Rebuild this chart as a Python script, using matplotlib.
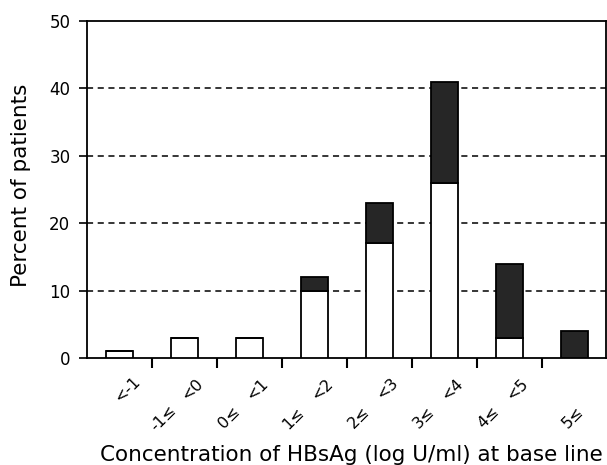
import matplotlib
matplotlib.use("Agg")
import matplotlib.pyplot as plt
import numpy as np

plt.rcParams['font.family'] = ['DejaVu Sans']

# data
upper_labels = ["<-1", "<0", "<1", "<2", "<3", "<4", "<5", ""]
lower_labels = ["", "-1\u2264", "0\u2264", "1\u2264", "2\u2264", "3\u2264", "4\u2264", "5\u2264"]
white_part = [1, 3, 3, 10, 17, 26, 3, 0]
dark_part = [0, 0, 0, 2, 6, 15, 11, 4]
yticks = [0, 10, 20, 30, 40, 50]

fig = plt.figure(figsize=(6.07, 4.65), dpi=100)
ax = fig.add_axes([0.1433, 0.2301, 0.8547, 0.7247])

x = np.arange(len(white_part))
w = 0.42
ax.bar(x, white_part, width=w, color='white', edgecolor='black', linewidth=1.3, zorder=3)
ax.bar(x, dark_part, width=w, bottom=white_part, color='#262626', edgecolor='black',
       linewidth=1.3, zorder=3)

ax.set_xlim(-0.5, 7.48)
ax.set_ylim(0, 50)
ax.set_yticks(yticks)
ax.set_yticklabels([str(v) for v in yticks], fontsize=12)
for v in yticks[1:-1]:
    ax.axhline(v, color='black', linestyle=(0, (4, 3)), linewidth=1.1, zorder=1)

ax.set_xticks(x[:-1] + 0.5)
ax.set_xticklabels([])
ax.tick_params(axis='x', direction='out', length=7, width=1.5, color='black')
ax.tick_params(axis='y', direction='out', length=6, width=1.2, pad=6)

for s in ax.spines.values():
    s.set_linewidth(1.3)

for i in range(len(x)):
    if upper_labels[i]:
        ax.annotate(upper_labels[i], xy=(x[i], -0.092), xycoords=('data', 'axes fraction'),
                    xytext=(5.5, 0), textcoords='offset points', rotation=45,
                    ha='center', va='center', fontsize=11.5)
    if lower_labels[i]:
        off = -15 if i < len(x) - 1 else -1.5
        ax.annotate(lower_labels[i], xy=(x[i], -0.178), xycoords=('data', 'axes fraction'),
                    xytext=(off, 0), textcoords='offset points', rotation=45,
                    ha='center', va='center', fontsize=11.5)

fig.text(21 / 607, 0.602, "Percent of patients", fontsize=15.5, rotation=90,
         ha='center', va='center')
fig.text(351 / 607, 4 / 465, "Concentration of HBsAg (log U/ml) at base line", fontsize=15.5,
         ha='center', va='baseline')

fig.savefig("out.png", dpi=100)
